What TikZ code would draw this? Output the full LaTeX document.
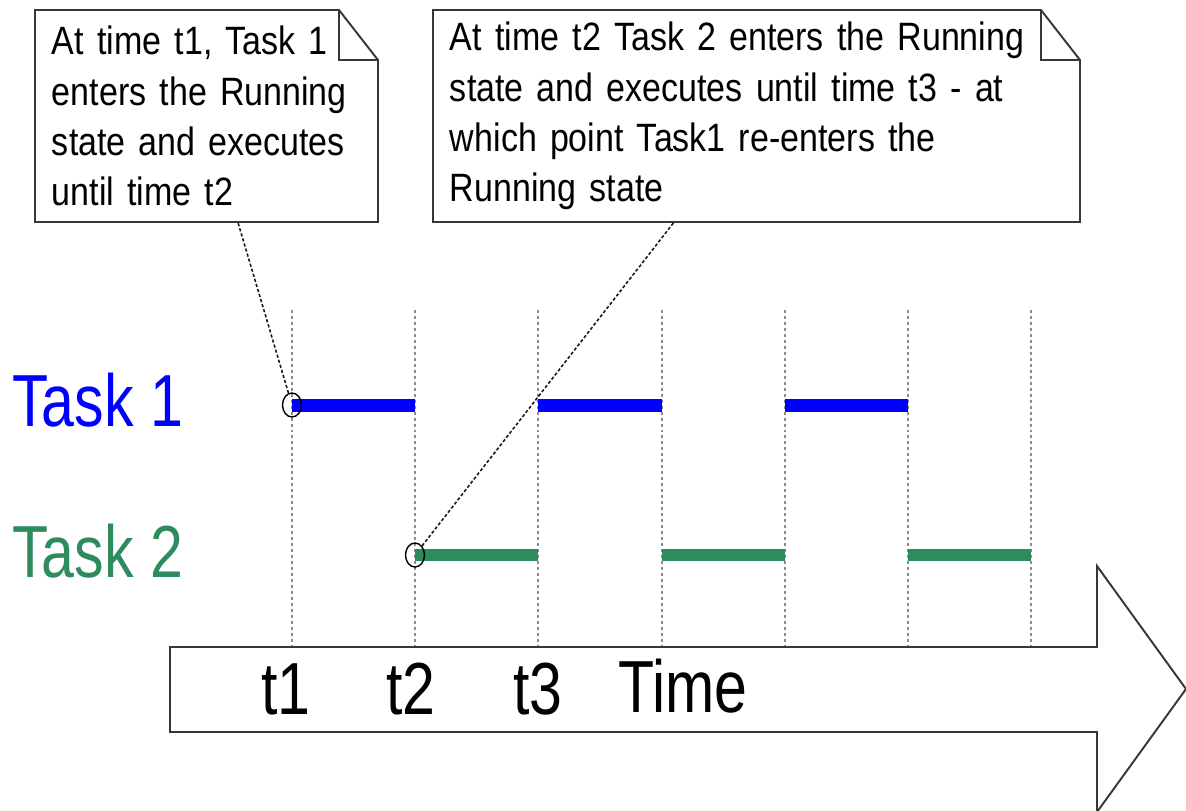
\documentclass[tikz,border=0pt]{standalone}
\usepackage{fontspec}
\setmainfont{Liberation Sans}[FakeStretch=0.86]
\newfontfamily\bigfont{Liberation Sans}[FakeStretch=0.80]
\usetikzlibrary{calc,shapes.geometric}
\definecolor{clrTaskOne}{rgb}{0,0,1}
\definecolor{clrTaskTwo}{RGB}{46,139,94}
\definecolor{clrBorders}{RGB}{55,55,55}
\tikzstyle{note_style}=[draw=none, anchor=center, align=left, outer sep=0pt,
inner xsep=3.4mm, inner ysep=0pt, minimum height=42.4mm, font=\fontsize{22.5}{28.6}\selectfont]
\tikzstyle{note_line}=[draw=clrBorders, line width=1.1pt, line join=miter]
\tikzstyle{leader}=[black!90, line width=0.9pt, dash pattern=on 1.8pt off 1.2pt]
\tikzstyle{grid_line}=[black!45, line width=1.1pt, dash pattern=on 1.7pt off 1.7pt]
\tikzstyle{run_one}=[clrTaskOne, line width=2.6mm]
\tikzstyle{run_two}=[clrTaskTwo, line width=2.4mm]
\tikzstyle{start_mark}=[draw, ellipse, line width=0.8pt, inner sep=0pt, minimum width=3.8mm, minimum height=4.8mm]
\tikzstyle{big_text}=[inner sep=0pt, font=\bigfont\fontsize{42}{50}\selectfont]
\newcommand{\notefold}[1]{%
  \draw[note_line] (#1.south west) -- (#1.north west) -- ($(#1.north east)+(-39,0)$)
    -- ($(#1.north east)+(0,50)$) -- (#1.south east) -- cycle;
  \draw[note_line] ($(#1.north east)+(-39,0)$) |- ($(#1.north east)+(0,50)$);}

\begin{document}
\begin{tikzpicture}[x=0.2mm, y=-0.2mm]
		\useasboundingbox (0,0) rectangle (1186,810);

		% time grid and running periods
		\foreach \i in {0,...,6} {
			\draw[grid_line] ({292+123.2*\i},310) -- ({292+123.2*\i},647);
		}
		\foreach \i in {0,2,4} {
			\draw[run_one] ({292+123.2*\i},405) -- ++(123.2,0);
			\draw[run_two] ({292+123.2*(\i+1)},555) -- ++(123.2,0);
		}

		\node[big_text, anchor=base west, text=clrTaskOne] (T1) at (12,426) {Task 1};
		\node[big_text, anchor=base west, text=clrTaskTwo] (T2) at (12,577) {Task 2};

		\node[start_mark] (M1) at (292,405) {};
		\node[start_mark] (M2) at (415,555) {};

		% callouts
		\node[note_style, text width=61.8mm] (N1) at (206.5,116)
			{At time t1, Task 1\\enters the Running\\state and executes\\until time t2};
		\notefold{N1}
		\draw[leader] (M1) -- (N1);

		\node[note_style, text width=122.6mm] (N2) at (756.5,116)
			{At time t2 Task 2 enters the Running\\state and executes until time t3 - at\\which point Task1 re-enters the\\Running state};
		\notefold{N2}
		\draw[leader] (M2) -- (N2);

		% time arrow
		\draw[note_line, fill=white] (170,647) -- (1097,647) -- (1097,566) -- (1186,689)
			-- (1097,812) -- (1097,732) -- (170,732) -- cycle;
		\node[big_text, anchor=base] (L1) at (286,714) {t1};
		\node[big_text, anchor=base] (L2) at (411,714) {t2};
		\node[big_text, anchor=base] (L3) at (538,714) {t3};
		\node[big_text, anchor=base] (L4) at (683,712) {Time};

	\end{tikzpicture}
\end{document}
